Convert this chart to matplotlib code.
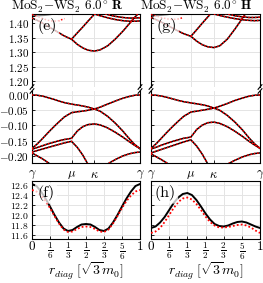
import numpy as np
import matplotlib
matplotlib.use('Agg')
import matplotlib.pyplot as plt

plt.rcParams['font.family'] = 'serif'
plt.rcParams['font.serif'] = ['cmr10']
plt.rcParams['mathtext.fontset'] = 'cm'
plt.rcParams['axes.formatter.use_mathtext'] = True
plt.rcParams['axes.unicode_minus'] = True

# path coordinate along gamma-mu-kappa-gamma
XP = [0, 0.05, 0.1, 0.15, 0.2, 0.25, 0.3, 0.366, 0.42, 0.47, 0.52, 0.577,
      0.63, 0.7, 0.77, 0.84, 0.9, 0.95, 1.0]
x_mu, x_ka = 0.366, 0.577

# ---- R stacking, conduction (panel e)
cR1 = [1.418, 1.41, 1.40, 1.389, 1.378, 1.367, 1.356, 1.345, 1.327, 1.315,
       1.307, 1.304, 1.308, 1.322, 1.345, 1.372, 1.398, 1.42, 1.44]
cR2_x = [0.366, 0.42, 0.47, 0.52, 0.577, 0.62]
cR2 = [1.345, 1.367, 1.387, 1.408, 1.431, 1.45]
cR3_x = [0.577, 0.63, 0.7, 0.77, 0.84, 0.9, 0.95, 1.0]
cR3 = [1.432, 1.426, 1.419, 1.413, 1.409, 1.407, 1.407, 1.408]
cR4_x = [0.0, 0.05, 0.1, 0.15, 0.2, 0.25]
cR4 = [1.424, 1.425, 1.427, 1.429, 1.432, 1.436]
cR5_x = [0.62, 0.7, 0.77, 0.84, 0.9, 0.95, 1.0]
cR5 = [1.44, 1.43, 1.424, 1.42, 1.418, 1.418, 1.419]
cR_red_x = [0.0, 0.05, 0.1, 0.15, 0.2, 0.25, 0.3]
cR_red = [1.43, 1.424, 1.416, 1.41, 1.407, 1.409, 1.416]

# ---- R stacking, valence (panel e lower)
vR1 = [0.0, -0.001, -0.004, -0.009, -0.014, -0.020, -0.025, -0.030, -0.033,
       -0.036, -0.040, -0.046, -0.040, -0.030, -0.020, -0.011, -0.005, -0.001, 0.0]
vR2 = [-0.175, -0.160, -0.142, -0.123, -0.105, -0.088, -0.072, -0.058, -0.055,
       -0.053, -0.050, -0.046, -0.053, -0.070, -0.092, -0.118, -0.143, -0.162, -0.176]
vR3 = [-0.178, -0.172, -0.166, -0.160, -0.155, -0.150, -0.146, -0.142, -0.118,
       -0.104, -0.097, -0.095, -0.098, -0.108, -0.122, -0.138, -0.153, -0.165, -0.176]
vR4_x = [0, 0.05, 0.1, 0.15, 0.2, 0.25, 0.3, 0.366, 0.42, 0.47, 0.51, 0.53]
vR4 = [-0.187, -0.182, -0.177, -0.172, -0.167, -0.162, -0.157, -0.152, -0.172,
       -0.197, -0.222, -0.235]
vR5_x = [0.66, 0.7, 0.77, 0.84, 0.9, 0.95, 1.0]
vR5 = [-0.235, -0.226, -0.212, -0.200, -0.193, -0.189, -0.187]
vR6_x = [0.0, 0.05, 0.1, 0.15, 0.18]
vR6 = [-0.19, -0.20, -0.21, -0.222, -0.23]

# ---- H stacking, conduction (panel g)
cH1 = [1.42, 1.412, 1.403, 1.393, 1.383, 1.373, 1.364, 1.355, 1.338, 1.326,
       1.319, 1.316, 1.322, 1.345, 1.38, 1.418, 1.45, 1.47, 1.48]
cH2_x = [0.366, 0.42, 0.47, 0.54, 0.58]
cH2 = [1.355, 1.378, 1.4, 1.43, 1.45]
cH3_x = [0.577, 0.63, 0.7, 0.77, 0.84, 0.9, 0.95, 1.0]
cH3 = [1.432, 1.427, 1.421, 1.416, 1.412, 1.41, 1.409, 1.41]
cH4_x = [0.0, 0.05, 0.1, 0.15, 0.2, 0.25]
cH4 = [1.425, 1.426, 1.428, 1.43, 1.433, 1.437]
cH5_x = [0.62, 0.7, 0.77, 0.84, 0.9, 0.95, 1.0]
cH5 = [1.44, 1.432, 1.426, 1.422, 1.42, 1.42, 1.421]
cH_red_x = [0.0, 0.05, 0.1, 0.15, 0.2, 0.25, 0.3]
cH_red = [1.43, 1.425, 1.419, 1.415, 1.413, 1.415, 1.42]

# ---- H stacking, valence (panel g lower)
vH1 = [0.0, -0.001, -0.004, -0.008, -0.013, -0.018, -0.022, -0.026, -0.029,
       -0.032, -0.036, -0.043, -0.037, -0.028, -0.018, -0.010, -0.004, -0.001, 0.0]
vH2 = [-0.175, -0.159, -0.140, -0.121, -0.103, -0.086, -0.070, -0.056, -0.053,
       -0.050, -0.047, -0.043, -0.050, -0.067, -0.089, -0.115, -0.141, -0.160, -0.175]
vH3 = [-0.177, -0.171, -0.164, -0.158, -0.152, -0.147, -0.142, -0.138, -0.113,
       -0.099, -0.091, -0.089, -0.093, -0.104, -0.119, -0.136, -0.152, -0.164, -0.175]
vH4_x = [0, 0.05, 0.1, 0.15, 0.2, 0.25, 0.3, 0.366, 0.42, 0.47, 0.51, 0.53]
vH4 = [-0.190, -0.184, -0.178, -0.172, -0.166, -0.160, -0.154, -0.147, -0.168,
       -0.194, -0.219, -0.233]
vH5_x = [0.66, 0.7, 0.77, 0.84, 0.9, 0.95, 1.0]
vH5 = [-0.235, -0.227, -0.214, -0.203, -0.196, -0.192, -0.190]
vH6_x = [0.0, 0.05, 0.1, 0.15, 0.18]
vH6 = [-0.193, -0.203, -0.213, -0.224, -0.232]

# ---- r_diag cuts (panels f, h)
r_diag = [i / 24 for i in range(25)]
f_black = [12.62, 12.58, 12.47, 12.33, 12.17, 12.00, 11.85, 11.73, 11.68, 11.70,
           11.76, 11.81, 11.82, 11.81, 11.76, 11.70, 11.68, 11.73, 11.85, 12.00,
           12.17, 12.33, 12.47, 12.58, 12.62]
f_red = [12.50, 12.47, 12.39, 12.28, 12.14, 11.98, 11.83, 11.71, 11.66, 11.67,
         11.72, 11.76, 11.77, 11.76, 11.72, 11.67, 11.66, 11.71, 11.83, 11.98,
         12.14, 12.28, 12.39, 12.47, 12.50]
h_black = [11.74, 11.77, 11.85, 11.96, 12.10, 12.24, 12.35, 12.42, 12.44, 12.40,
           12.30, 12.17, 12.03, 11.91, 11.82, 11.78, 11.77, 11.79, 11.83, 11.86,
           11.87, 11.85, 11.81, 11.77, 11.74]
h_red = [11.64, 11.67, 11.74, 11.86, 12.00, 12.14, 12.26, 12.33, 12.35, 12.31,
         12.22, 12.10, 11.97, 11.86, 11.79, 11.75, 11.75, 11.76, 11.78, 11.80,
         11.81, 11.79, 11.75, 11.69, 11.64]

path_ticks = [0, x_mu, x_ka, 1]
path_labels = [r'$\gamma$', r'$\mu$', r'$\kappa$', r'$\gamma$']
r_ticks = [0, 1/6, 1/3, 1/2, 2/3, 5/6, 1]
r_labels = ['$0$', r'$\frac{1}{6}$', r'$\frac{1}{3}$', r'$\frac{1}{2}$',
            r'$\frac{2}{3}$', r'$\frac{5}{6}$', '$1$']

W, H = 263, 283
fig = plt.figure(figsize=(W / 100, H / 100), dpi=100)

def px_axes(x0, x1, ytop, ybot):
    return fig.add_axes([x0 / W, 1 - ybot / H, (x1 - x0) / W, (ybot - ytop) / H])

def band(ax, x, y, red=True):
    ax.plot(x, y, color='black', lw=1.1, zorder=2)
    if red:
        ax.plot(x, y, color='red', lw=1.1, ls=(0, (1, 1.2)), zorder=3)

def style(ax, fs=8):
    ax.grid(True, color='#e4e4e4', lw=0.7)
    ax.set_axisbelow(True)
    ax.tick_params(direction='in', length=2.5, width=0.6, labelsize=fs, pad=2)
    for s in ax.spines.values():
        s.set_linewidth(0.8)

def label(ax, txt, x, y):
    ax.text(x, y, txt, transform=ax.transAxes, fontsize=11.5, ha='center',
            va='center', zorder=5,
            bbox=dict(boxstyle='round,pad=0.15', fc='white', ec='none', alpha=0.75))

def breaks(ax_top, ax_bot):
    d = 0.035
    kw = dict(color='k', clip_on=False, lw=0.8)
    for xx in (0, 1):
        ax_top.plot([xx - d / 2, xx + d / 2], [-d * 0.9, d * 0.9],
                    transform=ax_top.transAxes, **kw)
        ax_bot.plot([xx - d / 2, xx + d / 2], [1 - d * 0.9, 1 + d * 0.9],
                    transform=ax_bot.transAxes, **kw)

cols = [(32, 140), (151, 260)]
sets = [
    dict(c1=cR1, c2=(cR2_x, cR2), c3=(cR3_x, cR3), c4=(cR4_x, cR4),
         c5=(cR5_x, cR5), cr=(cR_red_x, cR_red), v=[vR1, vR2, vR3],
         vp=[(vR4_x, vR4), (vR5_x, vR5), (vR6_x, vR6)],
         bb=f_black, br=f_red, lab=('(e)', '(f)'),
         title=r'MoS$_2$$-$WS$_2$ 6.0$^{\circ}$ $\mathbf{R}$', tx=67),
    dict(c1=cH1, c2=(cH2_x, cH2), c3=(cH3_x, cH3), c4=(cH4_x, cH4),
         c5=(cH5_x, cH5), cr=(cH_red_x, cH_red), v=[vH1, vH2, vH3],
         vp=[(vH4_x, vH4), (vH5_x, vH5), (vH6_x, vH6)],
         bb=h_black, br=h_red, lab=('(g)', '(h)'),
         title=r'MoS$_2$$-$WS$_2$ 6.0$^{\circ}$ $\mathbf{H}$', tx=196),
]

for i, ((x0, x1), s) in enumerate(zip(cols, sets)):
    a_top = px_axes(x0, x1, 14, 87)
    a_mid = px_axes(x0, x1, 91, 163)
    a_bot = px_axes(x0, x1, 181, 239)

    # conduction bands
    band(a_top, XP, s['c1'])
    band(a_top, *s['c2'])
    band(a_top, *s['c3'])
    band(a_top, *s['c4'], red=False)
    band(a_top, *s['c5'])
    a_top.plot(*s['cr'], color='red', lw=1.1, ls=(0, (1, 1.2)), zorder=3)
    a_top.set_ylim(1.18, 1.432)
    a_top.set_yticks([1.20, 1.25, 1.30, 1.35, 1.40])
    a_top.yaxis.set_major_formatter(plt.FormatStrFormatter('$%.2f$'))

    # valence bands
    for v in s['v']:
        band(a_mid, XP, v)
    for vx, vy in s['vp']:
        band(a_mid, vx, vy)
    a_mid.set_ylim(-0.223, 0.013)
    a_mid.set_yticks([0.0, -0.05, -0.10, -0.15, -0.20])
    a_mid.yaxis.set_major_formatter(plt.FormatStrFormatter('$%.2f$'))

    for a in (a_top, a_mid):
        a.set_xlim(0, 1)
        a.set_xticks(path_ticks)
        style(a)
    a_top.tick_params(labelbottom=False, bottom=False)
    a_top.spines['bottom'].set_visible(False)
    a_mid.spines['top'].set_visible(False)
    a_mid.set_xticklabels(path_labels, fontsize=9)
    a_mid.tick_params(axis='x', pad=4)
    breaks(a_top, a_mid)

    # r_diag cut
    a_bot.plot(r_diag, s['bb'], color='black', lw=1.4, zorder=2)
    a_bot.plot(r_diag, s['br'], color='red', lw=1.3, ls=(0, (1, 1.2)), zorder=3)
    a_bot.set_xlim(0, 1)
    a_bot.set_ylim(11.52, 12.68)
    a_bot.set_yticks([11.6, 11.8, 12.0, 12.2, 12.4, 12.6])
    a_bot.yaxis.set_major_formatter(plt.FormatStrFormatter('$%.1f$'))
    a_bot.set_xticks(r_ticks)
    a_bot.set_xticklabels(r_labels, fontsize=9.5)
    style(a_bot, fs=7)
    a_bot.tick_params(axis='x', labelsize=9.5, pad=1)
    a_bot.set_xlabel(r'$r_{diag}\;[\sqrt{3}m_0]$', fontsize=10, labelpad=-1)

    if i == 1:
        for a in (a_top, a_mid, a_bot):
            a.tick_params(labelleft=False)

    label(a_top, s['lab'][0], 0.14, 0.84)
    label(a_bot, s['lab'][1], 0.13, 0.79)
    fig.text(s['tx'] / W, 1 - 7 / H, s['title'], fontsize=9.5,
             ha='center', va='center')

fig.savefig('out.png', dpi=100)
